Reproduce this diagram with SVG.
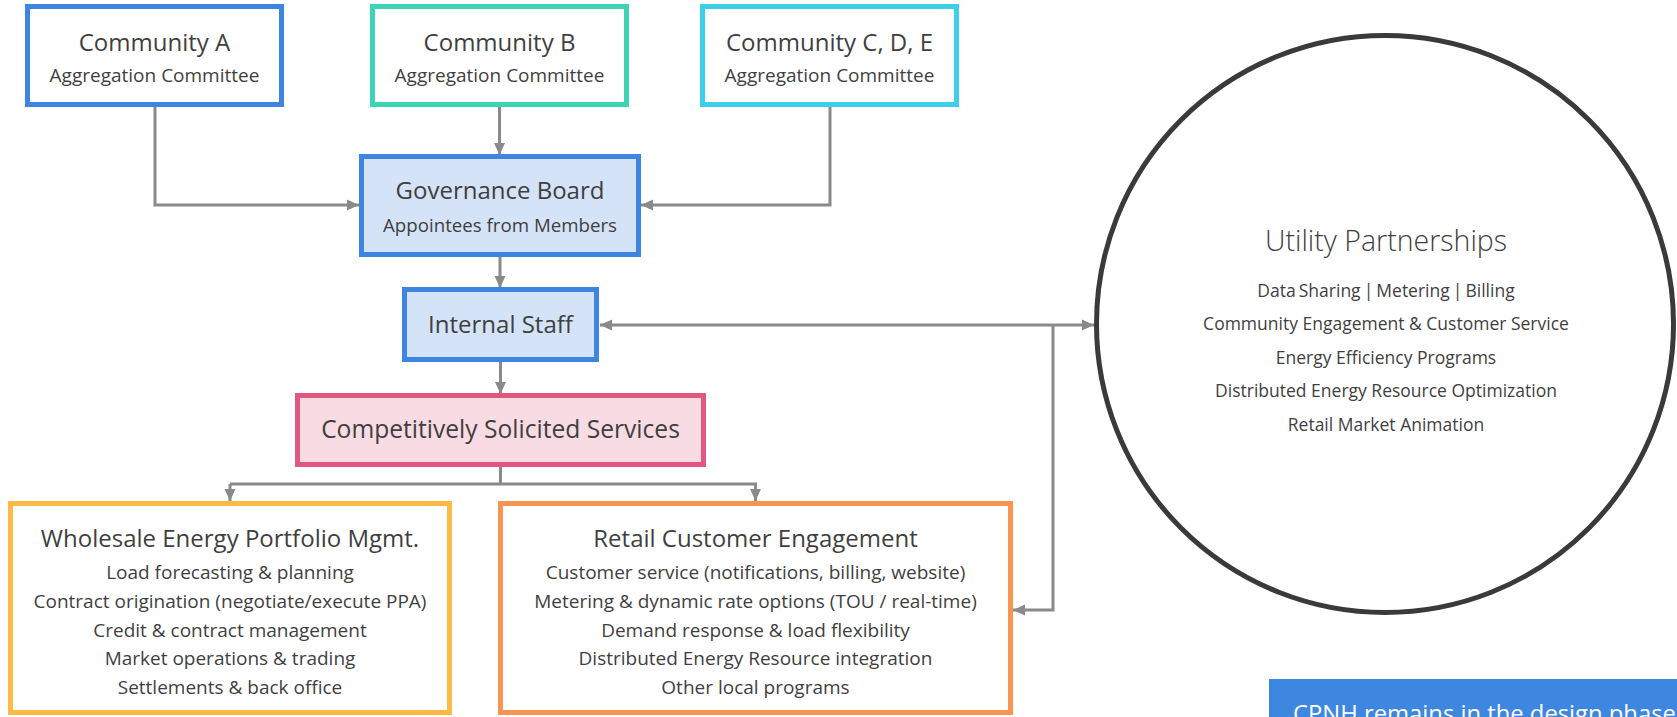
<svg xmlns="http://www.w3.org/2000/svg" width="1677" height="717" viewBox="0 0 1677 717">
  <style>
    .t { font-family: "Open Sans", "Noto Sans", sans-serif; fill: #3f3f3f; text-anchor: middle; }
    .h { font-size: 24px; }
    .s { font-size: 19px; }
    .c { font-size: 17.5px; }
    .box { stroke-width: 5; }
    .conn { fill: none; stroke: #8a8a8a; stroke-width: 3; }
  </style>
  <defs>
    <marker id="ah" viewBox="0 0 12 12" refX="12" refY="6" markerWidth="12" markerHeight="12" markerUnits="userSpaceOnUse" orient="auto-start-reverse">
      <path d="M0,0.5 L12,6 L0,11.5 z" fill="#8a8a8a"/>
    </marker>
  </defs>
  <rect width="1677" height="717" fill="#ffffff"/>

  <g id="connectors">
    <path class="conn" d="M155,107 V205 H359" marker-end="url(#ah)"/>
    <path class="conn" d="M499.5,107 V155" marker-end="url(#ah)"/>
    <path class="conn" d="M830,107 V205 H641" marker-end="url(#ah)"/>
    <path class="conn" d="M500,257 V288" marker-end="url(#ah)"/>
    <path class="conn" d="M500.5,362 V394" marker-end="url(#ah)"/>
    <path class="conn" d="M500.5,467 V484"/>
    <path class="conn" d="M230,484 V501" marker-end="url(#ah)"/>
    <path class="conn" d="M230,484 H755.5 V501" marker-end="url(#ah)"/>
    <path class="conn" d="M600,325 H1094" marker-start="url(#ah)" marker-end="url(#ah)"/>
    <path class="conn" d="M1053,325 V610 H1013" marker-end="url(#ah)"/>
  </g>

  <g id="community-a">
    <rect class="box" x="27.5" y="6.5" width="254" height="98" fill="#ffffff" stroke="#3d85e0"/>
    <text class="t h" x="154.5" y="51">Community A</text>
    <text class="t s" x="154.5" y="82">Aggregation Committee</text>
  </g>
  <g id="community-b">
    <rect class="box" x="372.5" y="6.5" width="254" height="98" fill="#ffffff" stroke="#3dd4b4"/>
    <text class="t h" x="499.5" y="51">Community B</text>
    <text class="t s" x="499.5" y="82">Aggregation Committee</text>
  </g>
  <g id="community-cde">
    <rect class="box" x="702.5" y="6.5" width="254" height="98" fill="#ffffff" stroke="#3ccfe8"/>
    <text class="t h" x="829.5" y="51">Community C, D, E</text>
    <text class="t s" x="829.5" y="82">Aggregation Committee</text>
  </g>
  <g id="governance-board">
    <rect class="box" x="361.5" y="156.5" width="277" height="98" fill="#d4e3f8" stroke="#3d85e0"/>
    <text class="t h" x="500" y="199">Governance Board</text>
    <text class="t" x="500" y="232" font-size="18.7">Appointees from Members</text>
  </g>
  <g id="internal-staff">
    <rect class="box" x="404.5" y="289.5" width="192" height="70" fill="#d4e3f8" stroke="#3d85e0"/>
    <text class="t h" x="500.5" y="333">Internal Staff</text>
  </g>
  <g id="competitively-solicited">
    <rect class="box" x="297.5" y="395.5" width="406" height="69" fill="#f9dbe4" stroke="#e0587f"/>
    <text class="t" x="500.5" y="438" font-size="24.6">Competitively Solicited Services</text>
  </g>
  <g id="wholesale">
    <rect class="box" x="10.5" y="503.5" width="439" height="209" fill="#ffffff" stroke="#fdbb43"/>
    <text class="t h" x="230" y="547">Wholesale Energy Portfolio Mgmt.</text>
    <text class="t s" x="230" y="579">Load forecasting &amp; planning</text>
    <text class="t s" x="230" y="608">Contract origination (negotiate/execute PPA)</text>
    <text class="t s" x="230" y="636.5">Credit &amp; contract management</text>
    <text class="t s" x="230" y="665">Market operations &amp; trading</text>
    <text class="t s" x="230" y="694">Settlements &amp; back office</text>
  </g>
  <g id="retail">
    <rect class="box" x="500.5" y="503.5" width="510" height="209" fill="#ffffff" stroke="#fb9351"/>
    <text class="t h" x="755.5" y="547">Retail Customer Engagement</text>
    <text class="t s" x="755.5" y="579">Customer service (notifications, billing, website)</text>
    <text class="t s" x="755.5" y="608">Metering &amp; dynamic rate options (TOU / real-time)</text>
    <text class="t s" x="755.5" y="636.5">Demand response &amp; load flexibility</text>
    <text class="t s" x="755.5" y="665">Distributed Energy Resource integration</text>
    <text class="t s" x="755.5" y="694">Other local programs</text>
  </g>
  <g id="utility-partnerships">
    <circle cx="1385" cy="324" r="288.5" fill="#ffffff" stroke="#3a3a3a" stroke-width="5"/>
    <text class="t" x="1386" y="251" font-size="28.5" font-weight="300">Utility Partnerships</text>
    <text class="t c" x="1386" y="296.5" word-spacing="-1.5">Data Sharing | Metering | Billing</text>
    <text class="t c" x="1386" y="330">Community Engagement &amp; Customer Service</text>
    <text class="t c" x="1386" y="363.5">Energy Efficiency Programs</text>
    <text class="t c" x="1386" y="397">Distributed Energy Resource Optimization</text>
    <text class="t c" x="1386" y="430.5">Retail Market Animation</text>
  </g>
  <g id="cpnh-note">
    <rect x="1269" y="679" width="420" height="50" fill="#3d87e0"/>
    <text x="1293" y="722" font-family="Open Sans, Noto Sans, sans-serif" font-size="23.8" fill="#ffffff">CPNH remains in the design phase</text>
  </g>
</svg>
